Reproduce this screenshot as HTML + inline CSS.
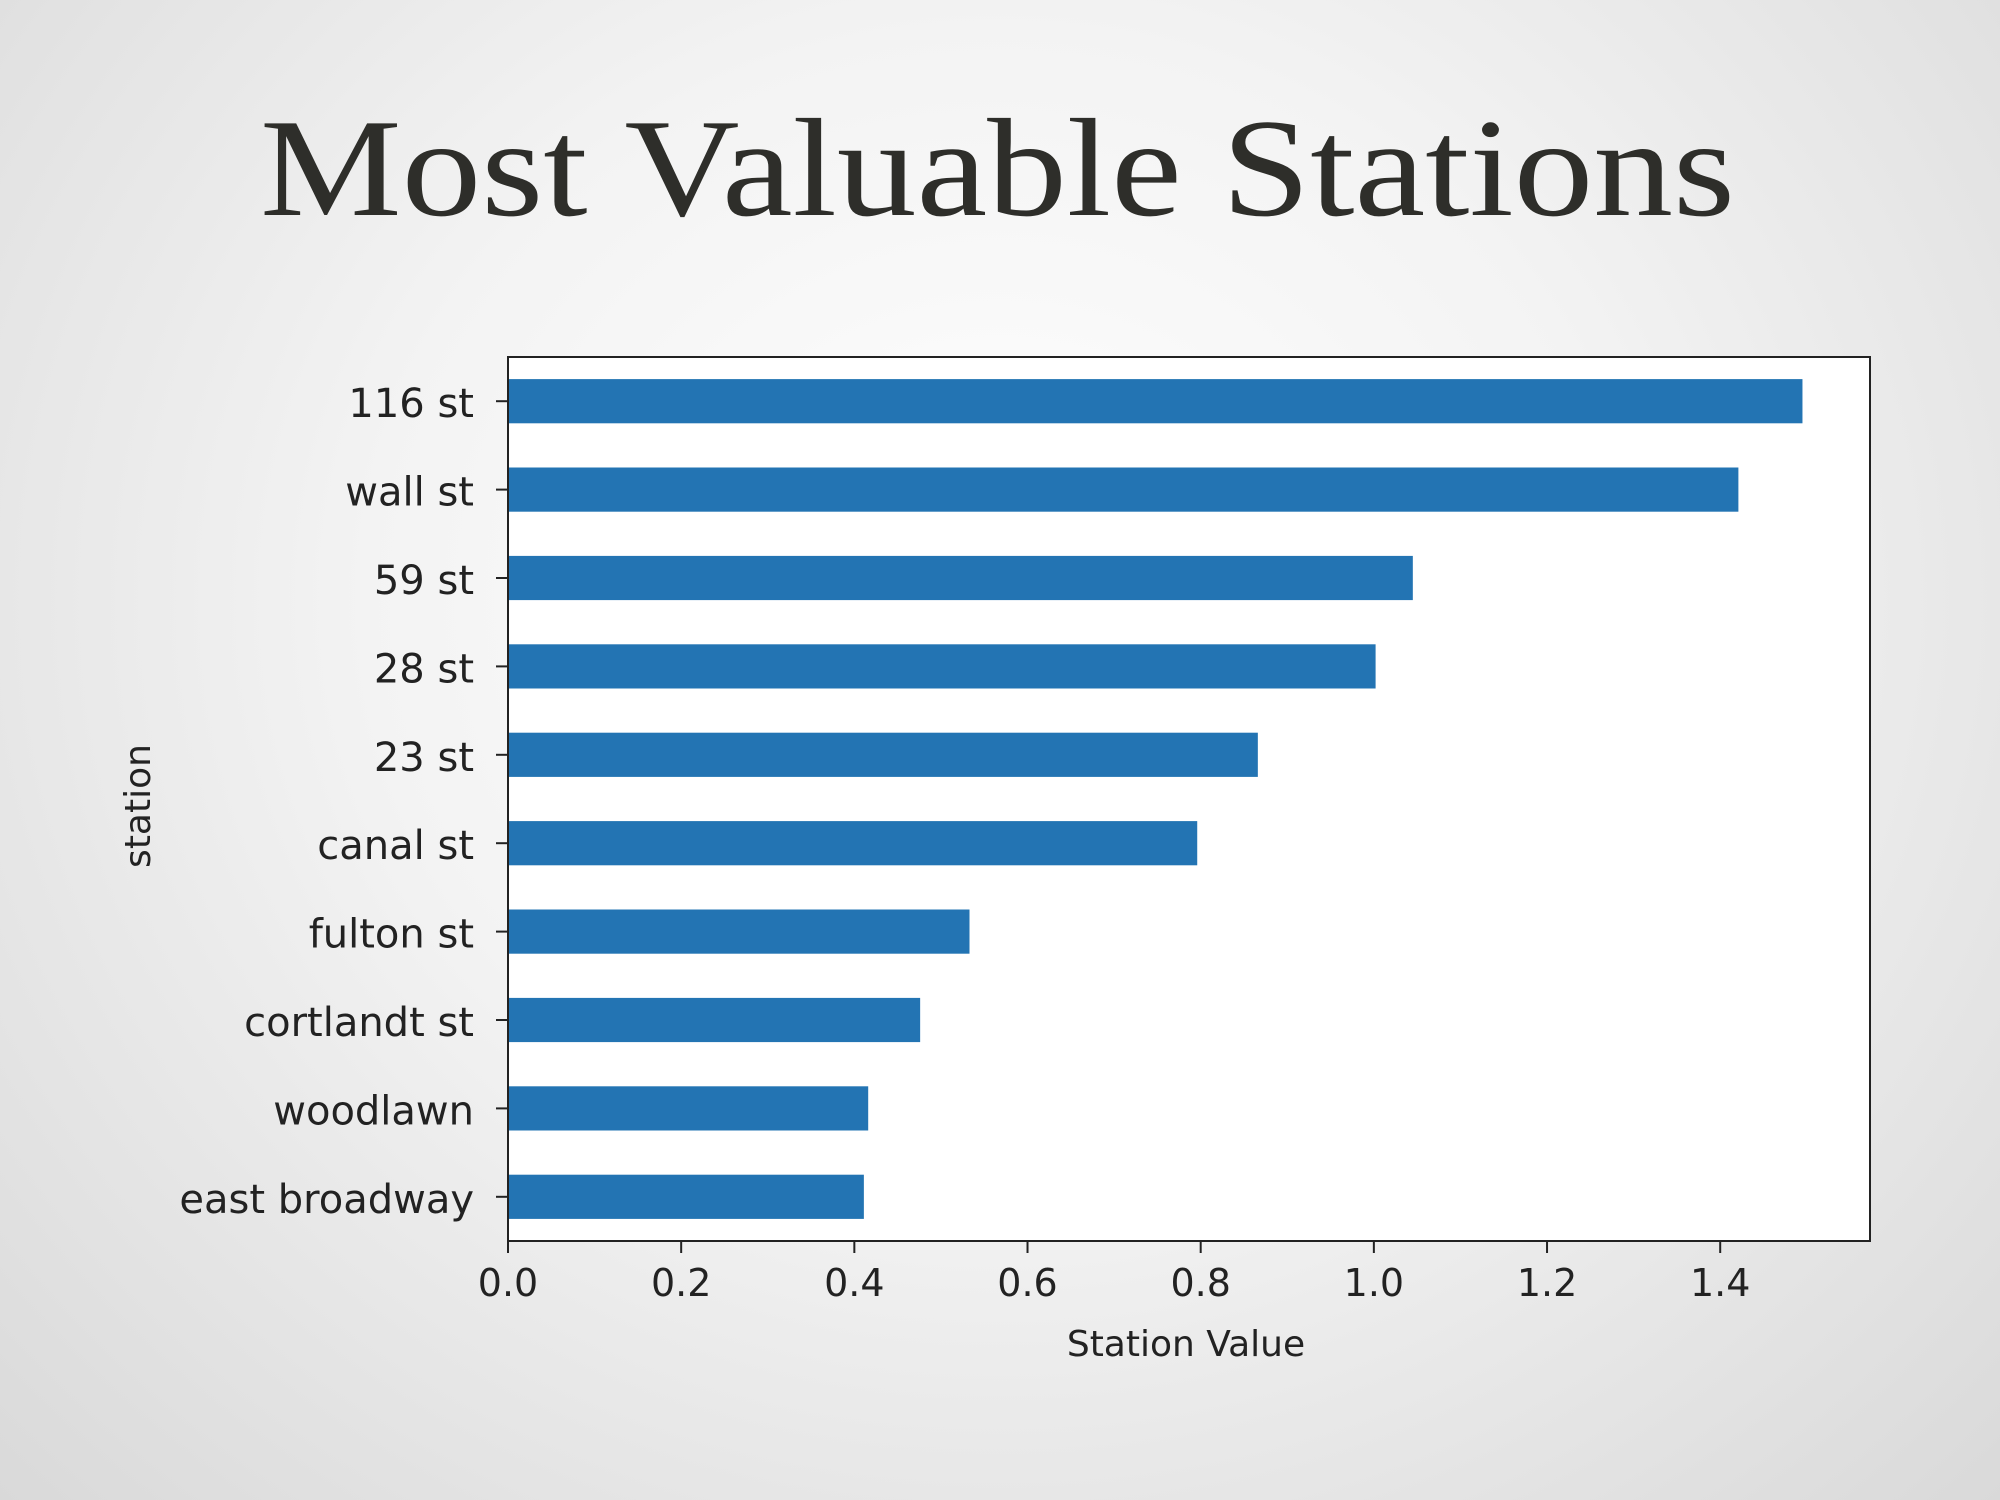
<!DOCTYPE html>
<html><head><meta charset="utf-8"><style>
html,body{margin:0;padding:0}
body{width:2000px;height:1500px;overflow:hidden;background:radial-gradient(ellipse at 50% 40%,#ffffff 0%,#f3f3f3 45%,#d9d9d9 100%);}
svg{position:absolute;left:0;top:0}
</style></head><body>
<svg id="chart" width="2000" height="1500" xmlns="http://www.w3.org/2000/svg">
<text x="260" y="215" font-family="Liberation Serif, serif" font-size="140" fill="#2e2e2a" textLength="1475" lengthAdjust="spacingAndGlyphs">Most Valuable Stations</text>
<rect x="508" y="357" width="1362" height="884" fill="#ffffff"/>
<g id="bars"></g>
<g id="axes"></g>
<rect x="508" y="357" width="1362" height="884" fill="none" stroke="#222" stroke-width="2"/>
<text x="1186" y="1356" text-anchor="middle" font-family="DejaVu Sans, sans-serif" font-size="36" fill="#222">Station Value</text>
<text transform="translate(150,806) rotate(-90)" text-anchor="middle" font-family="DejaVu Sans, sans-serif" font-size="36" fill="#222">station</text>
</svg>
<script>
const categories = ["116 st","wall st","59 st","28 st","23 st","canal st","fulton st","cortlandt st","woodlawn","east broadway"];
const values = [1.495,1.421,1.045,1.002,0.866,0.796,0.533,0.476,0.416,0.411];
const xTicks = [0,0.2,0.4,0.6,0.8,1.0,1.2,1.4];
const xTickLabels = ["0.0","0.2","0.4","0.6","0.8","1.0","1.2","1.4"];

const L=508,T=357,W=1362,H=884,XMAX=1.573;
const xs=v=>L+v/XMAX*W;
const band=H/categories.length;
const ys=i=>T+band*(i+0.5);
const NS="http://www.w3.org/2000/svg";
const bars=document.getElementById('bars'), axes=document.getElementById('axes');
function mk(tag,attrs,parent){const e=document.createElementNS(NS,tag);for(const k in attrs)e.setAttribute(k,attrs[k]);parent.appendChild(e);return e;}
categories.forEach((c,i)=>{
  const r=mk('rect',{x:xs(0),y:ys(i)-band*0.25,width:xs(values[i])-xs(0),height:band*0.5,fill:'#2374b3'},bars);
  
  
  const t=mk('line',{x1:L-12,x2:L,y1:ys(i),y2:ys(i),stroke:'#222','stroke-width':2},axes);
  
  
  const lb=mk('text',{x:L-34,y:ys(i)+16,'text-anchor':'end','font-family':'DejaVu Sans, sans-serif','font-size':40,fill:'#222'},axes);
  lb.textContent=c;
  
  
});
xTicks.forEach((v,i)=>{
  const t=mk('line',{x1:xs(v),x2:xs(v),y1:T+H,y2:T+H+12,stroke:'#222','stroke-width':2},axes);
  
  
  const lb=mk('text',{x:xs(v),y:T+H+55,'text-anchor':'middle','font-family':'DejaVu Sans, sans-serif','font-size':38,fill:'#222'},axes);
  lb.textContent=xTickLabels[i];
  
  
});
</script>
</body></html>
